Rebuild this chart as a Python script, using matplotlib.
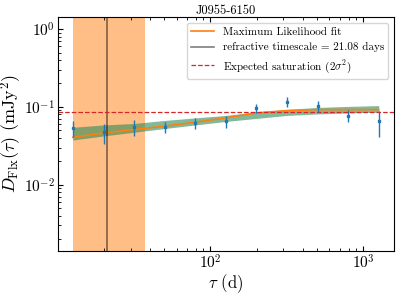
import numpy as np
import matplotlib
matplotlib.use("Agg")
import matplotlib.pyplot as plt

plt.rcParams['font.family'] = 'serif'
plt.rcParams['font.serif'] = ['cmr10']
plt.rcParams['mathtext.fontset'] = 'cm'
plt.rcParams['axes.formatter.use_mathtext'] = True

# structure function lags (days) and measured values (mJy^2)
tau = [12.6, 20.0, 31.6, 50.1, 79.4, 125.9, 199.5, 316.2, 501.2, 794.3, 1258.9]
dflx = [0.053, 0.047, 0.055, 0.055, 0.062, 0.065, 0.096, 0.116, 0.102, 0.077, 0.065]
dflx_err = [0.012, 0.014, 0.013, 0.009, 0.010, 0.011, 0.012, 0.017, 0.016, 0.013, 0.024]

# maximum likelihood fit and its uncertainty band
fit = [0.0406, 0.0463, 0.0513, 0.0564, 0.0635, 0.0722, 0.0837, 0.0896, 0.0923, 0.0923, 0.0923]
fit_lo = [0.0375, 0.0423, 0.0472, 0.0527, 0.0586, 0.0650, 0.0711, 0.0777, 0.0812, 0.0837, 0.0854]
fit_hi = [0.0547, 0.0586, 0.0612, 0.0670, 0.0722, 0.0777, 0.0862, 0.0929, 0.0985, 0.1015, 0.1040]

t_ref = 21.08
t_ref_lo = 12.6
t_ref_hi = 37.6
saturation = 0.085

fig = plt.figure(figsize=(3.99, 2.94), dpi=100)
ax = fig.add_axes([0.145, 0.146, 0.842, 0.796])

ax.axvspan(t_ref_lo, t_ref_hi, color='C1', alpha=0.5, lw=0)
ax.fill_between(tau, fit_lo, fit_hi, color='seagreen', alpha=0.6, lw=0)
ax.plot(tau, fit, color='C1', lw=1.2, label='Maximum Likelihood fit')
ax.axvline(t_ref, color='k', alpha=0.5, lw=1.2,
           label='refractive timescale = %.2f days' % t_ref)
ax.axhline(saturation, color='C3', ls='--', lw=0.9,
           label=r'Expected saturation ($2\sigma^2$)')
ax.errorbar(tau, dflx, yerr=dflx_err, fmt='s', ms=2, color='C0',
            elinewidth=1.0, capsize=0)

ax.set_xscale('log')
ax.set_yscale('log')
ax.set_xlim(10.05, 1580)
ax.set_ylim(1.4e-3, 1.43)
ax.tick_params(which='both', direction='in', top=True, labelsize=11, pad=2)
ax.set_xlabel(r'$\tau$ (d)', fontsize=12, labelpad=0)
ax.set_ylabel(r'$D_{\rm Flx}(\tau)$ (mJy$^2$)', fontsize=13, labelpad=0)
ax.set_title('J0955-6150', fontsize=9, pad=2)
ax.legend(loc='upper right', fontsize=8, framealpha=0.8)

fig.savefig('out.png', dpi=100)
